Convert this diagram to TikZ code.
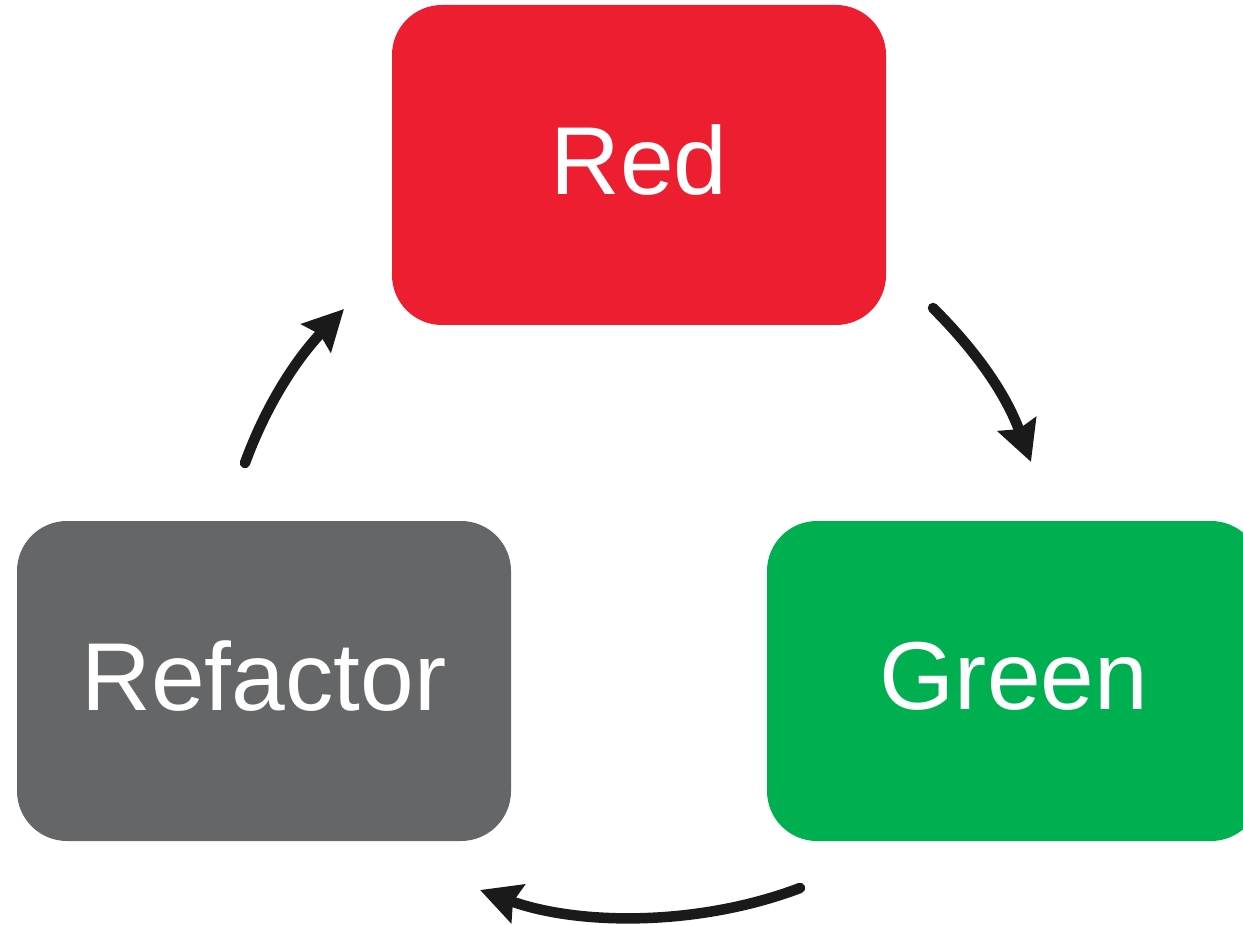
\documentclass[tikz,border=0pt]{standalone}
\usepackage{fontspec}
\setmainfont{Liberation Sans}
\usetikzlibrary{arrows.meta}
\definecolor{tddred}{HTML}{EE1E31}
\definecolor{tddgreen}{HTML}{00AF50}
\definecolor{tddgray}{HTML}{656668}
\definecolor{arrowc}{HTML}{1A1A1A}
\begin{document}
\begin{tikzpicture}[x=1pt,y=-1pt,
  box/.style={rounded corners=50pt, minimum width=494pt, minimum height=320pt,
    inner sep=0pt, text=white, text depth=11pt, font=\fontsize{96.5}{110}\selectfont},
  cyc/.style={draw=arrowc, line width=10.5pt, line cap=round,
    -{Stealth[length=40pt,width=40pt,inset=5pt]}}]
\useasboundingbox (0,0) rectangle (1243,925);
\clip (0,0) rectangle (1243,925);
\node[box, fill=tddred] (red) at (639,165) {Red};
\node[box, fill=tddgreen] (green) at (1014,681) {Green};
\node[box, fill=tddgray] (refactor) at (264,681) {Refactor};
\coordinate (a1s) at (933,308);
\coordinate (a1e) at (1031,462);
\coordinate (a2s) at (800,888);
\coordinate (a2e) at (480,890);
\coordinate (a3s) at (245,463);
\coordinate (a3e) at (344,309);
\draw[cyc] (a1s) .. controls (975,350) and (1005,392) .. (a1e);
\draw[cyc] (a2s) .. controls (700,926) and (580,926) .. (a2e);
\draw[cyc] (a3s) .. controls (268,400) and (300,355) .. (a3e);
\end{tikzpicture}
\end{document}
